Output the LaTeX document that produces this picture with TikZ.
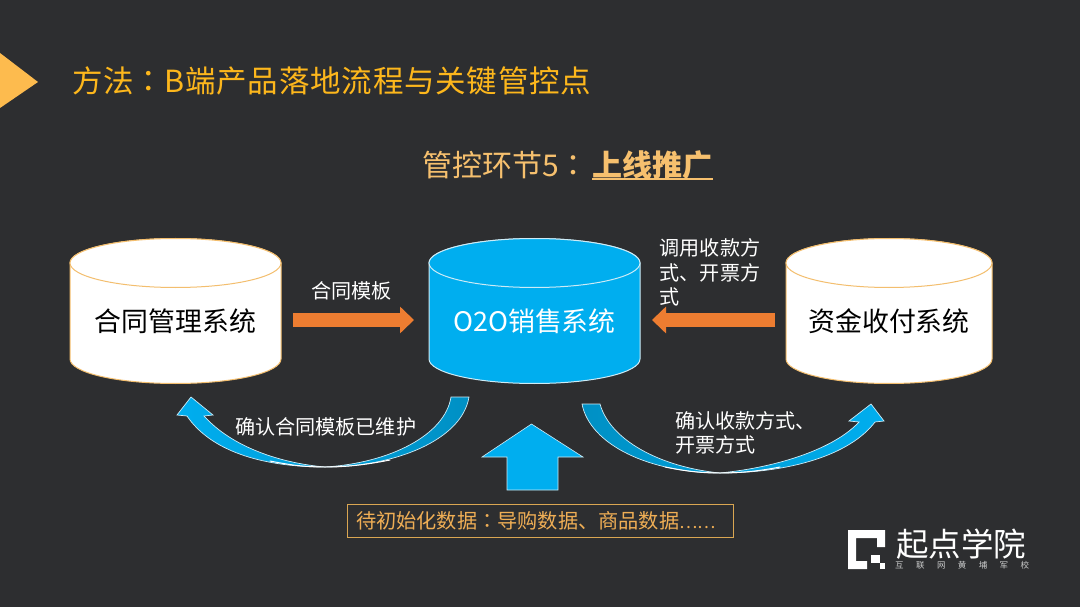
\documentclass[tikz,border=0pt]{standalone}
\usepackage{fontspec}
\setmainfont{Noto Sans CJK SC}
\newfontfamily\cjktc{Noto Sans CJK TC}
\usetikzlibrary{arrows.meta}
\definecolor{bgc}{HTML}{2D2E30}
\definecolor{gold}{HTML}{FDB71C}
\definecolor{tri}{HTML}{FDBB4E}
\definecolor{sand}{HTML}{F6C06E}
\definecolor{boxt}{HTML}{EFAE55}
\definecolor{rim}{HTML}{F3BE6E}
\definecolor{boxr}{HTML}{D9A652}
\definecolor{blueA}{HTML}{00AEEF}
\definecolor{blueB}{HTML}{0090C4}
\definecolor{edgeb}{HTML}{CDEBF6}
\definecolor{orangeA}{HTML}{ED7D31}
\newcommand{\fs}[1]{\fontsize{#1}{#1}\selectfont}
\newcommand{\cc}{{\cjktc ：}}
\tikzset{
  x=1pt,y=-1pt,
  syslabel/.style={inner sep=0pt,minimum height=30pt,text centered},
  lbl/.style={inner sep=0pt,text=white,align=left,font=\fontsize{20.1}{24.5}\selectfont,anchor=west},
  block/.style={-{Triangle[length=14pt,width=26pt]},line width=13.5pt,orangeA},
  curvearrow/.style={draw=edgeb,line width=0.7pt,line join=miter},
}
\newcommand{\cyl}[6]{% xl xr fill toprim edge topfill
  \path[fill=#3,draw=#5,line width=1pt] (#1,263) -- (#1,359)
    .. controls (#1,372.5) and ({#1+(#2-#1)*0.22},383.5) .. ({(#1+#2)/2},383.5)
    .. controls ({#2-(#2-#1)*0.22},383.5) and (#2,372.5) .. (#2,359) -- (#2,263)
    .. controls (#2,249.7) and ({#2-(#2-#1)*0.22},238.5) .. ({(#1+#2)/2},238.5)
    .. controls ({#1+(#2-#1)*0.22},238.5) and (#1,249.7) .. (#1,263) -- cycle;
  \path[fill=#6,draw=#4,line width=1pt] ({(#1+#2)/2},263) ellipse [x radius={(#2-#1)/2},y radius=24.5];
}
\begin{document}
\begin{tikzpicture}
\useasboundingbox (0,0) rectangle (1080,607);
\fill[bgc] (0,0) rectangle (1080,607);
\fill[tri] (0,53) -- (38,82) -- (0,108) -- cycle;
\node[anchor=west,inner sep=0pt,text=gold,font=\fs{30.5}\addfontfeature{LetterSpace=2.6}] (title) at (72,81) {方法\cc B端产品落地流程与关键管控点};
\node[anchor=west,inner sep=0pt,text=sand,font=\fs{30}] (sub1) at (422,165) {管控环节5\cc};
\node[anchor=west,inner sep=0pt,text=sand,font=\bfseries\fs{30}] (sub2) at (592,165) {上线推广};
\draw[sand,line width=1.3pt] (592,179) -- (713,179);

\cyl{70}{281}{white}{rim}{rim}{white}
\cyl{429}{640}{blueA}{edgeb}{edgeb}{blueA}
\cyl{786}{992}{white}{rim}{rim}{white}

\node[syslabel,minimum width=211pt,text=black,font=\fs{26.9}] (sysA) at (175.5,321) {合同管理系统};
\node[syslabel,minimum width=211pt,text=white,font=\fs{26.9}] (sysB) at (534.5,321) {O2O销售系统};
\node[syslabel,minimum width=206pt,text=black,font=\fs{26.9}] (sysC) at (889,321) {资金收付系统};

\draw[block,shorten <=12pt,shorten >=15pt] ([yshift=1pt]sysA.center) ++(105.5,0) -- ([yshift=1pt,xshift=-105.5pt]sysB.center);
\draw[block,shorten <=11pt,shorten >=12pt] ([yshift=1pt,xshift=-103pt]sysC.center) -- ([yshift=1pt,xshift=105.5pt]sysB.center);

\node[lbl,anchor=center] (l1) at (351.5,291) {合同模板};
\node[lbl] (l2) at (659.5,272.5) {调用收款方\\式、开票方\\式};
\node[lbl] (l3) at (235,427) {确认合同模板已维护};
\node[lbl] (l4) at (675,433) {确认收款方式、\\开票方式};

% left curved arrow
\path[curvearrow,left color=blueA,right color=blueB]
  (469,397) .. controls (462,440) and (395,467) .. (325,467)
  .. controls (260,467) and (210,450) .. (187,416)
  -- (177,415) -- (191,397) -- (213,415) -- (204,416)
  .. controls (232,447) and (280,463) .. (325,467)
  .. controls (390,463) and (445,435) .. (451,397) -- cycle;
\draw[white,line width=1pt,line cap=round] (270,461) .. controls (290,465) and (305,467) .. (325,467) .. controls (345,467) and (365,465) .. (390,460);
% right curved arrow
\path[curvearrow,left color=blueB,right color=blueA]
  (582,404) .. controls (590,445) and (650,473) .. (720,473)
  .. controls (790,473) and (850,455) .. (875,422)
  -- (884,421) -- (871,404) -- (849,421) -- (859,422)
  .. controls (835,448) and (780,467) .. (720,473)
  .. controls (660,467) and (610,440) .. (600,404) -- cycle;
\draw[white,line width=1pt,line cap=round] (665,467) .. controls (685,471) and (700,473) .. (720,473) .. controls (740,473) and (760,471) .. (780,467);
% up arrow
\path[draw=edgeb,line width=0.6pt,fill=blueA] (531.5,424) -- (583,457) -- (558,457) -- (558,490) -- (507,490) -- (507,457) -- (482,457) -- cycle;

\node[draw=boxr,line width=0.9pt,inner xsep=9pt,inner ysep=0pt,text width=368pt,align=left,minimum height=32.5pt,text=boxt,font=\fs{20.2}] (box) at (540,521) {待初始化数据\cc 导购数据、商品数据{\fs{17.3}……}};

% logo
\fill[white] (848,530) -- (885,530) -- (885,547) -- (877,547) -- (877,538) -- (856,538) -- (856,561) -- (867,561) -- (867,569) -- (848,569) -- cycle;
\fill[white] (871,555) rectangle (880,563);
\fill[white] (880,563) rectangle (885,569);
\node[anchor=west,inner sep=0pt,text=white,font=\fs{32.5}] (logo) at (896,544) {起点学院};
\node[anchor=west,inner sep=0pt,text=white!75!bgc,font=\fs{8.5}] (logo2) at (895,565) {互\hskip12.4pt联\hskip12.4pt网\hskip12.4pt黄\hskip12.4pt埔\hskip12.4pt军\hskip12.4pt校};
\end{tikzpicture}
\end{document}
